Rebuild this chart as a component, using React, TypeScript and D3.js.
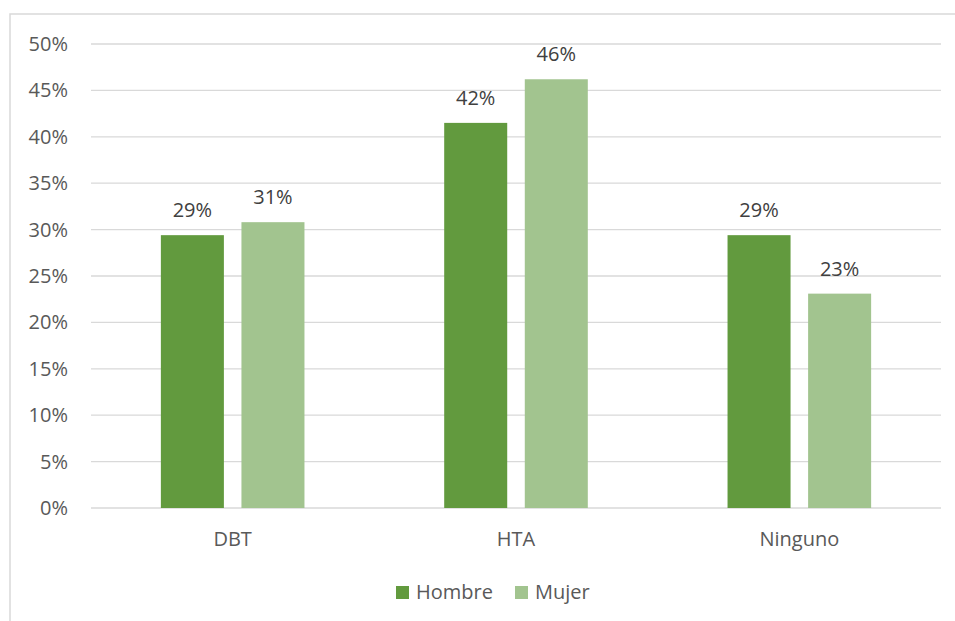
import React from "react";
import * as d3 from "d3";

// Share of each condition by sex (percent)
const categories = ["DBT", "HTA", "Ninguno"];
const seriesNames = ["Hombre", "Mujer"];
const hombre = [29.4, 41.5, 29.4];
const mujer = [30.8, 46.2, 23.1];
const yTicks = [0, 5, 10, 15, 20, 25, 30, 35, 40, 45, 50];

const colors: Record<string, string> = { Hombre: "#629a3e", Mujer: "#a2c48f" };

const W = 955;
const H = 621;
const plot = { left: 91, right: 941, top: 44, bottom: 508 };
const font = "'Open Sans', 'Noto Sans', sans-serif";
const fs = 20;

export default function App() {
  const values: Record<string, number[]> = { Hombre: hombre, Mujer: mujer };

  const x = d3.scaleBand<string>().domain(categories).range([plot.left, plot.right]).padding(0);
  const y = d3.scaleLinear().domain([0, 50]).range([plot.bottom, plot.top]);

  const groupW = 143.6;
  const inner = d3
    .scaleBand<string>()
    .domain(seriesNames)
    .range([-groupW / 2, groupW / 2])
    .paddingInner(0.218)
    .paddingOuter(0);

  const legendItems = [
    { name: "Hombre", x: 396 },
    { name: "Mujer", x: 515 },
  ];

  return (
    <svg
      width={W}
      height={H}
      style={{ position: "absolute", left: 0, top: 0, background: "#ffffff" }}
      fontFamily={font}
    >
      {/* chart frame */}
      <rect x={10} y={14} width={960} height={640} fill="none" stroke="#d9d9d9" strokeWidth={1.5} />

      {/* gridlines and y labels */}
      {yTicks.map((t) => (
        <g key={t}>
          <line x1={plot.left} x2={plot.right} y1={y(t)} y2={y(t)} stroke="#d9d9d9" strokeWidth={1.3} />
          <text x={68} y={y(t) + 7} textAnchor="end" fontSize={fs} fill="#595959">
            {t}%
          </text>
        </g>
      ))}

      {/* bars */}
      {categories.map((c, i) => {
        const cx = (x(c) as number) + x.bandwidth() / 2;
        return (
          <g key={c}>
            {seriesNames.map((s) => {
              const v = values[s][i];
              const bx = cx + (inner(s) as number);
              return (
                <g key={s}>
                  <rect x={bx} y={y(v)} width={inner.bandwidth()} height={y(0) - y(v)} fill={colors[s]} />
                  <text
                    x={bx + inner.bandwidth() / 2}
                    y={y(v) - 18}
                    textAnchor="middle"
                    fontSize={fs}
                    fill="#404040"
                  >
                    {Math.round(v)}%
                  </text>
                </g>
              );
            })}
            <text x={cx} y={546} textAnchor="middle" fontSize={fs} fill="#595959">
              {c}
            </text>
          </g>
        );
      })}

      {/* legend */}
      {legendItems.map((l) => (
        <g key={l.name}>
          <rect x={l.x} y={586} width={13} height={13} fill={colors[l.name]} />
          <text x={l.x + 20} y={599} fontSize={fs} fill="#595959">
            {l.name}
          </text>
        </g>
      ))}
    </svg>
  );
}
